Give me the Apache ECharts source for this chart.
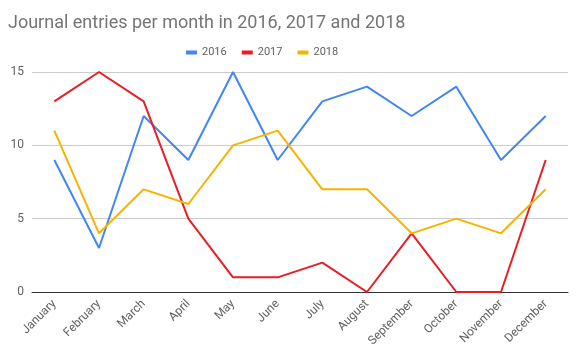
<!DOCTYPE html>
<html>
<head>
<meta charset="utf-8">
<script src="https://cdn.jsdelivr.net/npm/echarts@6/dist/echarts.min.js"></script>
<style>
  html, body { margin: 0; padding: 0; background: #fff; }
  #chart { width: 577px; height: 353px; }
</style>
</head>
<body>
<div id="chart"></div>
<script>
const months = ['January', 'February', 'March', 'April', 'May', 'June', 'July',
  'August', 'September', 'October', 'November', 'December']
const entries2016 = [9, 3, 12, 9, 15, 9, 13, 14, 12, 14, 9, 12]
const entries2017 = [13, 15, 13, 5, 1, 1, 2, 0, 4, 0, 0, 9]
const entries2018 = [11, 4, 7, 6, 10, 11, 7, 7, 4, 5, 4, 7]
const yearNames = ['2016', '2017', '2018']
const colors = ['#4285f4', '#ea1c24', '#f4b400']

const chart = echarts.init(document.getElementById('chart'))
const seriesData = [entries2016, entries2017, entries2018]

chart.setOption({
  animation: false,
  textStyle: { fontFamily: 'Roboto' },
  title: {
    text: 'Journal entries per month in 2016, 2017 and 2018',
    left: 3,
    top: 9,
    textStyle: { fontFamily: 'Roboto', fontSize: 18, fontWeight: 'normal', color: '#757575' },
  },
  legend: {
    top: 42,
    left: 181,
    itemWidth: 11,
    itemHeight: 4,
    itemGap: 15,
    icon: 'rect',
    textStyle: { fontSize: 11, color: '#616161' },
    data: yearNames,
  },
  grid: { left: 32, right: 9, top: 72, bottom: 61 },
  xAxis: {
    type: 'category',
    data: months,
    boundaryGap: true,
    axisLine: { lineStyle: { color: '#333', width: 1 } },
    axisTick: { show: false },
    axisLabel: { rotate: 45, color: '#616161', fontSize: 12, margin: 10, interval: 0 },
  },
  yAxis: {
    type: 'value',
    min: 0,
    max: 15,
    interval: 5,
    axisLine: { show: false },
    axisTick: { show: false },
    axisLabel: { color: '#616161', fontSize: 12, margin: 8 },
    splitLine: { lineStyle: { color: '#cccccc' } },
  },
  series: yearNames.map((name, i) => ({
    name,
    type: 'line',
    data: seriesData[i],
    symbol: 'none',
    color: colors[i],
    lineStyle: { width: 2, color: colors[i] },
  })),
})
</script>
</body>
</html>
